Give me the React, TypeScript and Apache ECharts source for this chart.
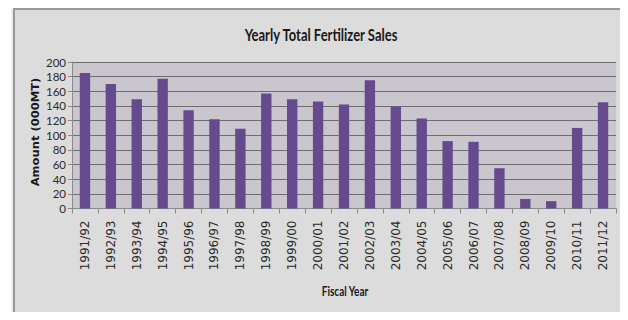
import React, { useEffect, useRef } from "react";
import * as echarts from "echarts";

const categories = [
  "1991/92", "1992/93", "1993/94", "1994/95", "1995/96", "1996/97", "1997/98",
  "1998/99", "1999/00", "2000/01", "2001/02", "2002/03", "2003/04", "2004/05",
  "2005/06", "2006/07", "2007/08", "2008/09", "2009/10", "2010/11", "2011/12",
];
const sales = [
  185, 170, 149, 177, 134, 122, 109, 157, 149, 146, 142, 175, 139, 123,
  92, 91, 55, 13, 10, 110, 145,
];
const yTicks = { min: 0, max: 200, interval: 20 };
const titleText = "Yearly Total Fertilizer Sales";
const xAxisTitle = "Fiscal Year";
const yAxisTitle = "Amount (000MT)";

export default function App() {
  const ref = useRef<HTMLDivElement>(null);
  useEffect(() => {
    if (!ref.current) return;
    const chart = echarts.init(ref.current, undefined, { renderer: "svg" });
    chart.setOption({
      animation: false,
      backgroundColor: "#ffffff",
      graphic: [
        {
          type: "rect",
          z: -10,
          shape: { x: 14, y: 9, width: 609, height: 305 },
          style: {
            fill: "#dcdcdc",
            stroke: "#9a9a9a",
            lineWidth: 2,
            shadowBlur: 3,
            shadowColor: "rgba(0,0,0,0.25)",
          },
        },
        {
          type: "text",
          x: 321,
          y: 34,
          scaleY: 1.35,
          style: {
            text: titleText,
            fontFamily: "Lato",
            fontWeight: "bold",
            fontSize: 13,
            fill: "#1a1a1a",
            textAlign: "center",
            textVerticalAlign: "middle",
          },
        },
        {
          type: "text",
          x: 345,
          y: 291,
          scaleY: 1.3,
          style: {
            text: xAxisTitle,
            fontFamily: "Lato",
            fontWeight: "bold",
            fontSize: 10,
            fill: "#1a1a1a",
            textAlign: "center",
            textVerticalAlign: "middle",
          },
        },
        {
          type: "text",
          x: 36,
          y: 132,
          rotation: Math.PI / 2,
          scaleX: 1.1,
          style: {
            text: yAxisTitle,
            fontFamily: "'DejaVu Sans'",
            fontWeight: "bold",
            fontSize: 10.5,
            fill: "#1a1a1a",
            textAlign: "center",
            textVerticalAlign: "middle",
          },
        },
      ],
      grid: {
        left: 72,
        right: 12,
        top: 62,
        bottom: 111.5,
        show: true,
        backgroundColor: "#cac6ce",
        borderWidth: 0,
      },
      xAxis: {
        type: "category",
        data: categories,
        axisLine: { lineStyle: { color: "#8a8a8a", width: 1 } },
        axisTick: { show: true, alignWithLabel: false, length: 5, lineStyle: { color: "#8a8a8a" } },
        axisLabel: {
          rotate: 90,
          interval: 0,
          margin: 12,
          fontFamily: "'DejaVu Sans'",
          fontSize: 12,
          color: "#2a2a2a",
        },
      },
      yAxis: {
        type: "value",
        min: yTicks.min,
        max: yTicks.max,
        interval: yTicks.interval,
        axisLine: { show: true, lineStyle: { color: "#8a8a8a" } },
        axisTick: { show: true, length: 4, lineStyle: { color: "#8a8a8a" } },
        axisLabel: {
          margin: 6,
          fontFamily: "Lato",
          fontSize: 11.5,
          color: "#2a2a2a",
        },
        splitLine: { lineStyle: { color: "#6e6e72", width: 1 } },
      },
      series: [
        {
          type: "bar",
          data: sales,
          barWidth: "40%",
          itemStyle: { color: "#664a8e" },
          markArea: {
            silent: true,
            itemStyle: { color: "#d3d0d7" },
            data: [[{ yAxis: 180 }, { yAxis: 200 }]],
            z: -1,
          },
        },
      ],
    });
    return () => chart.dispose();
  }, []);
  return <div ref={ref} style={{ width: 628, height: 320, margin: -8 }} />;
}
